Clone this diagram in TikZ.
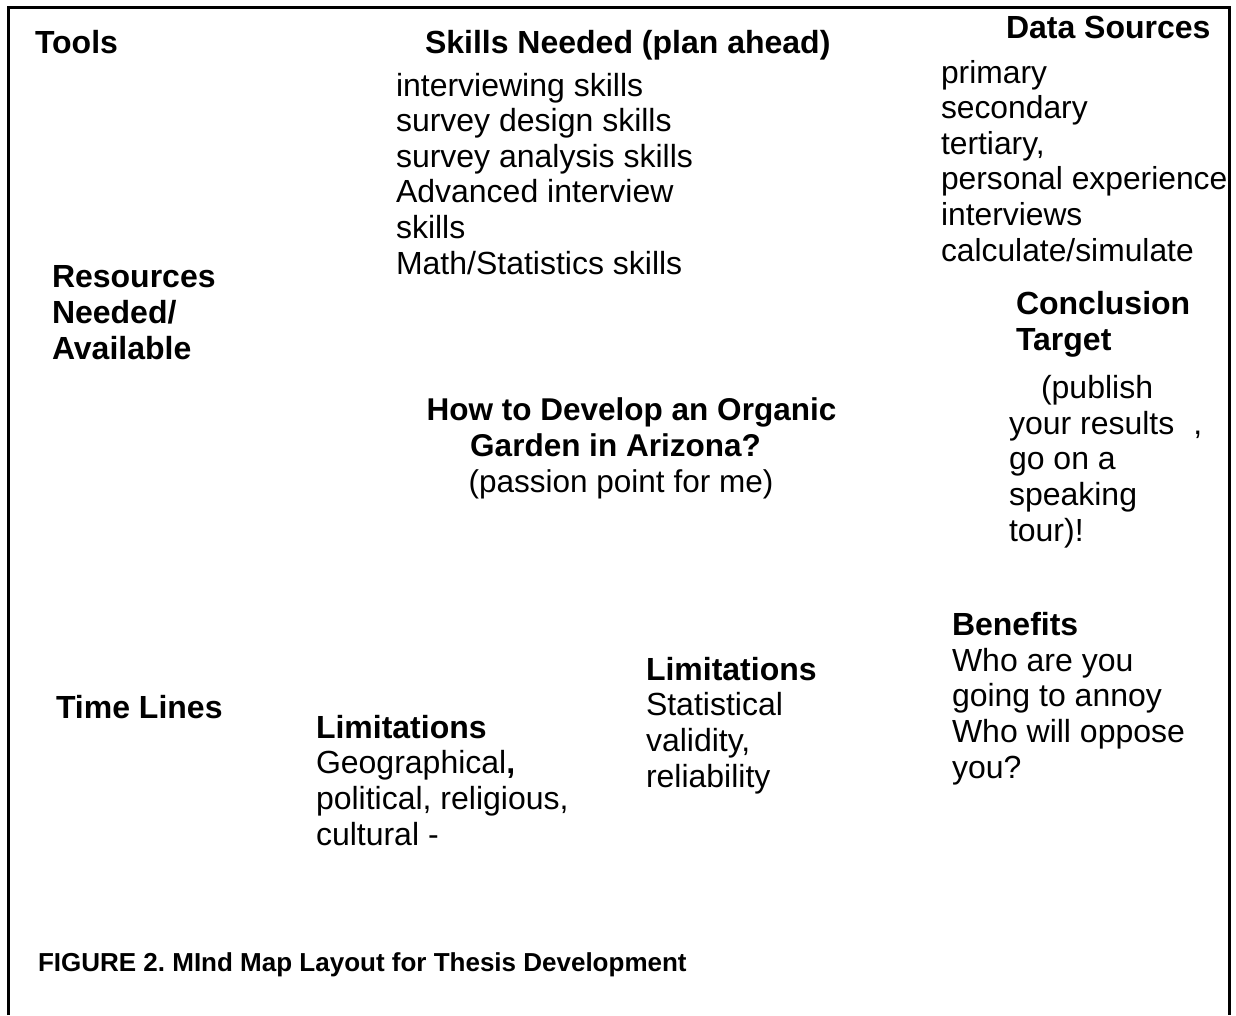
\documentclass[tikz,border=0pt]{standalone}
\usepackage{fontspec}
\setmainfont{Liberation Sans}
\frenchspacing
\begin{document}
\begin{tikzpicture}[x=1pt,y=-1pt,
  every node/.style={inner sep=0pt,outer sep=0pt,anchor=base west,align=left,
    font=\fontsize{32}{35.6}\selectfont},
  head/.style={font=\fontsize{32}{35.6}\selectfont\bfseries},
  body/.style={},
  title/.style={anchor=base,align=center,font=\fontsize{31.5}{35.6}\selectfont\bfseries},
  caption/.style={font=\fontsize{26}{30}\selectfont\bfseries}]
\useasboundingbox (0,0) rectangle (1236,1015);
% open frame around the map
\draw[line width=3pt] (8,1015) -- (8,7) -- (1229,7) -- (1229,1015);

% multi-line nodes are placed by the baseline of their last line
\node[head] (tools) at (35,53) {Tools};
\node[head] (skillshead) at (425,53) {Skills Needed (plan ahead)};
\node[head] (datahead) at (1006,38) {Data Sources};

\node[body] (skills) at (396,274) {interviewing skills\\survey design skills\\survey analysis skills\\Advanced interview\\skills\\Math/Statistics skills};
\node[body,font=\fontsize{31.8}{35.6}\selectfont] (data) at (941,261) {primary\\secondary\\tertiary,\\personal experience\\interviews\\calculate/simulate};

\node[head] (resources) at (52,359) {Resources\\Needed/\\Available};
\node[head] (conclusion) at (1016,350) {Conclusion\\Target};
\node[body] (publish) at (1009,541) {\hspace{32pt}(publish\\your results\hspace{10pt} ,\\go on a\\speaking\\tour)!};

\node[title] (topic) at (631.5,492) {How to Develop an Organic\\\hspace{-32pt}Garden in Arizona?\\\mdseries\hspace{-21pt}(passion point for me)};

\node[head] (timelines) at (56,718) {Time Lines};
\node[body] (limits1) at (316,845) {\textbf{Limitations}\\Geographical\textbf{,}\\political, religious,\\cultural -};
\node[body] (limits2) at (646,787) {\textbf{Limitations}\\Statistical\\validity,\\reliability};
\node[body] (benefits) at (952,778) {\textbf{Benefits}\\Who are you\\going to annoy\\Who will oppose\\you?};

\node[caption] (caption) at (38,971) {FIGURE 2. MInd Map Layout for Thesis Development};
\end{tikzpicture}
\end{document}
